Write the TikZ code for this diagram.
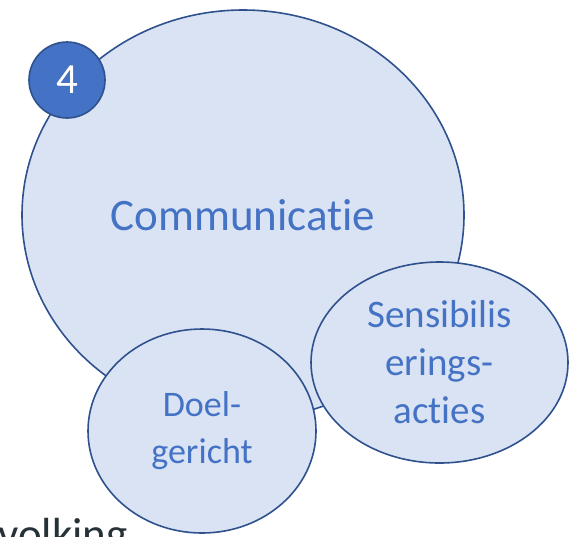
\documentclass[tikz,border=0pt]{standalone}
\usepackage{fontspec}
\setmainfont{Carlito}[Ligatures=NoCommon]
\usepackage{xcolor}
\usetikzlibrary{shapes.geometric}
\definecolor{bubblefill}{RGB}{218, 227, 243}
\definecolor{bubbleline}{RGB}{47, 82, 143}
\definecolor{bubbletext}{RGB}{68, 114, 196}
\definecolor{badgefill}{RGB}{68, 114, 196}
\definecolor{slidetext}{RGB}{38, 50, 56}

\begin{document}
\begin{tikzpicture}[
        x=1pt,
        y=-1pt,
        bubble/.style={
            ellipse,
            draw=bubbleline,
            line width=1.6pt,
            fill=bubblefill,
            text=bubbletext,
            inner sep=0pt,
            align=center,
        },
    ]
    \useasboundingbox (0,0) rectangle (569,536);
    \node[
        bubble,
        minimum width=442pt,
        minimum height=410pt,
        font=\fontsize{45}{54}\selectfont,
    ] (comm) at (243,215) {Communicatie};
    \node[
        circle,
        draw=bubbleline,
        line width=1.6pt,
        fill=badgefill,
        text=white,
        minimum size=76pt,
        inner sep=0pt,
        font=\fontsize{43}{50}\selectfont,
    ] (four) at (67,80) {4};
    \node[
        bubble,
        minimum width=228pt,
        minimum height=204pt,
        font=\fontsize{36}{47}\selectfont,
    ] (doel) at (202,431) {Doel-\\gericht};
    \node[
        bubble,
        minimum width=257pt,
        minimum height=201pt,
        font=\fontsize{39}{48}\selectfont,
    ] (sens) at (439.5,362.5) {Sensibilis\\erings-\\acties};
    \node[
        anchor=base east,
        text=slidetext,
        inner sep=0pt,
        font=\fontsize{45}{54}\selectfont,
    ] (volk) at (128,549) {volking};
\end{tikzpicture}
\end{document}
